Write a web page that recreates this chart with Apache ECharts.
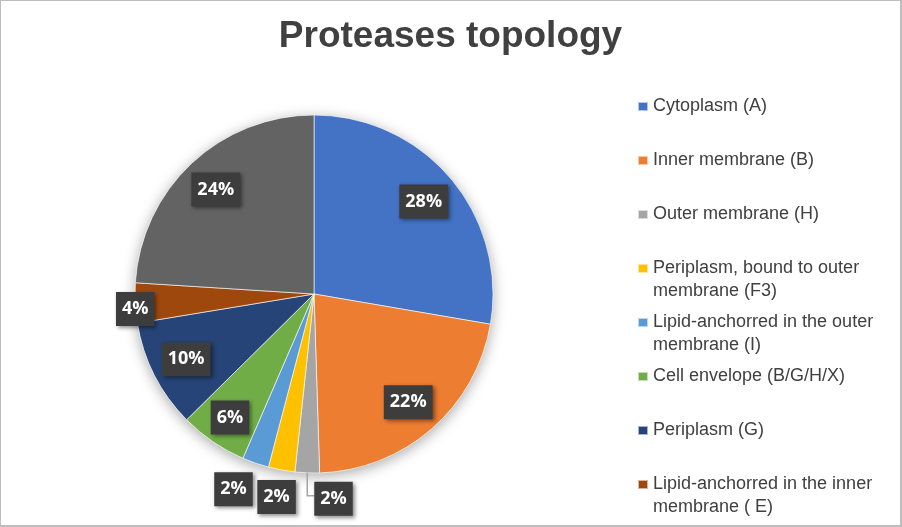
<!DOCTYPE html>
<html>
<head>
<meta charset="utf-8">
<script src="https://cdn.jsdelivr.net/npm/echarts@6/dist/echarts.min.js"></script>
<style>
  html, body { margin: 0; padding: 0; background: #fff; }
  #chart { width: 902px; height: 527px; box-sizing: border-box;
           border-style: solid; border-color: #bdbdbd;
           border-width: 1px 2px 2px 1px; background: #fff; }
</style>
</head>
<body>
<div id="chart"></div>
<script>
// ---- data ----
var titleText = 'Proteases topology';
var categories = [
  'Cytoplasm (A)',
  'Inner membrane (B)',
  'Outer membrane (H)',
  'Periplasm, bound to outer membrane (F3)',
  'Lipid-anchorred in the outer membrane (I)',
  'Cell envelope (B/G/H/X)',
  'Periplasm (G)',
  'Lipid-anchorred in the inner membrane ( E)',
  'Other'
];
var legendLines = [
  ['Cytoplasm (A)'],
  ['Inner membrane (B)'],
  ['Outer membrane (H)'],
  ['Periplasm, bound to outer', 'membrane (F3)'],
  ['Lipid-anchorred in the outer', 'membrane (I)'],
  ['Cell envelope (B/G/H/X)'],
  ['Periplasm (G)'],
  ['Lipid-anchorred in the inner', 'membrane ( E)']
];
var shares = [27.7, 21.8, 2.2, 2.4, 2.4, 6.1, 9.8, 3.6, 24.0];
var colors = ['#4472C4', '#ED7D31', '#A5A5A5', '#FFC000', '#5B9BD5',
              '#70AD47', '#264478', '#9E480E', '#636363'];

// ---- which label sits in which label ring ----
var ringInner = [0, 1, 5, 6, 8];
var ringEdge = [7];
var ringOuter = [3, 4];
var ringLeader = [2];

var center = [313, 293];
var R = 179;

var labelStyle = {
  color: '#ffffff',
  fontFamily: 'Open Sans',
  fontWeight: 'bold',
  fontSize: 18,
  backgroundColor: '#3d3d3d',
  padding: [9, 6, 7, 6],
  shadowColor: 'rgba(0,0,0,0.45)',
  shadowBlur: 4,
  shadowOffsetX: 2,
  shadowOffsetY: 2,
  formatter: function (p) { return Math.round(p.percent) + '%'; }
};

function ringData(showList) {
  return categories.map(function (c, i) {
    return {
      name: c,
      value: shares[i],
      label: { show: showList.indexOf(i) >= 0 },
      labelLine: { show: showList.indexOf(i) >= 0 }
    };
  });
}

function labelRing(radius, showList, layoutFn, position) {
  return {
    type: 'pie',
    center: center,
    radius: radius,
    startAngle: 90,
    silent: true,
    z: 5,
    avoidLabelOverlap: false,
    itemStyle: { color: 'rgba(0,0,0,0)', borderWidth: 0 },
    emphasis: { disabled: true },
    label: Object.assign({ position: position || 'inside' }, labelStyle),
    labelLine: {
      show: position === 'outside',
      length: 20, length2: 6,
      lineStyle: { color: '#a5a5a5', width: 1.5 }
    },
    labelLayout: layoutFn,
    data: ringData(showList)
  };
}

var legendText = {};
categories.forEach(function (c, i) {
  if (legendLines[i]) {
    legendText[c] = '\n' + legendLines[i][0] + '\n' + (legendLines[i][1] || ' ');
  }
});

var chart = echarts.init(document.getElementById('chart'));
chart.setOption({
  animation: false,
  color: colors,
  title: {
    text: titleText,
    left: 'center',
    top: 12,
    textStyle: {
      fontFamily: 'Liberation Sans',
      fontWeight: 'bold',
      fontSize: 37,
      color: '#404040'
    }
  },
  legend: {
    orient: 'vertical',
    left: 636,
    top: 71,
    height: 470,
    padding: 0,
    itemGap: -15,
    itemWidth: 10,
    itemHeight: 9,
    icon: 'rect',
    selectedMode: false,
    data: categories.slice(0, 8),
    formatter: function (name) { return legendText[name]; },
    textStyle: {
      fontFamily: 'Liberation Sans',
      fontSize: 18,
      lineHeight: 23,
      color: '#404040'
    }
  },
  series: [
    {
      type: 'pie',
      name: 'shadow',
      center: center,
      radius: R,
      silent: true,
      z: 1,
      label: { show: false },
      labelLine: { show: false },
      itemStyle: {
        color: '#ffffff',
        shadowBlur: 14,
        shadowColor: 'rgba(0,0,0,0.35)',
        shadowOffsetY: 3
      },
      data: [{ name: '__bg', value: 1 }]
    },
    {
      type: 'pie',
      name: 'Proteases topology',
      center: center,
      radius: R,
      startAngle: 90,
      z: 2,
      label: { show: false },
      labelLine: { show: false },
      emphasis: { scale: false },
      itemStyle: { borderColor: 'rgba(255,255,255,0.6)', borderWidth: 1 },
      data: categories.map(function (c, i) { return { name: c, value: shares[i] }; })
    },
    labelRing([102, 179], ringInner, function (p) {
      return p.dataIndex === 5 ? { dx: -3, dy: 5 } : {};
    }),
    labelRing([172, 180], ringEdge, function () { return { dy: 6 }; }),
    labelRing([179, 228], ringOuter, function (p) {
      return p.dataIndex === 4 ? { dx: -13 } : {};
    }),
    labelRing(R, ringLeader, function (p) {
      var pts = p.labelLinePoints;
      if (!pts) { return {}; }
      var s = pts[0];
      var bend = [s[0], s[1] + 23];
      var end = [s[0] + 7, s[1] + 23];
      return {
        x: end[0], y: end[1] + 3,
        align: 'left', verticalAlign: 'middle',
        labelLinePoints: [s, bend, end]
      };
    }, 'outside')
  ]
});
</script>
</body>
</html>
